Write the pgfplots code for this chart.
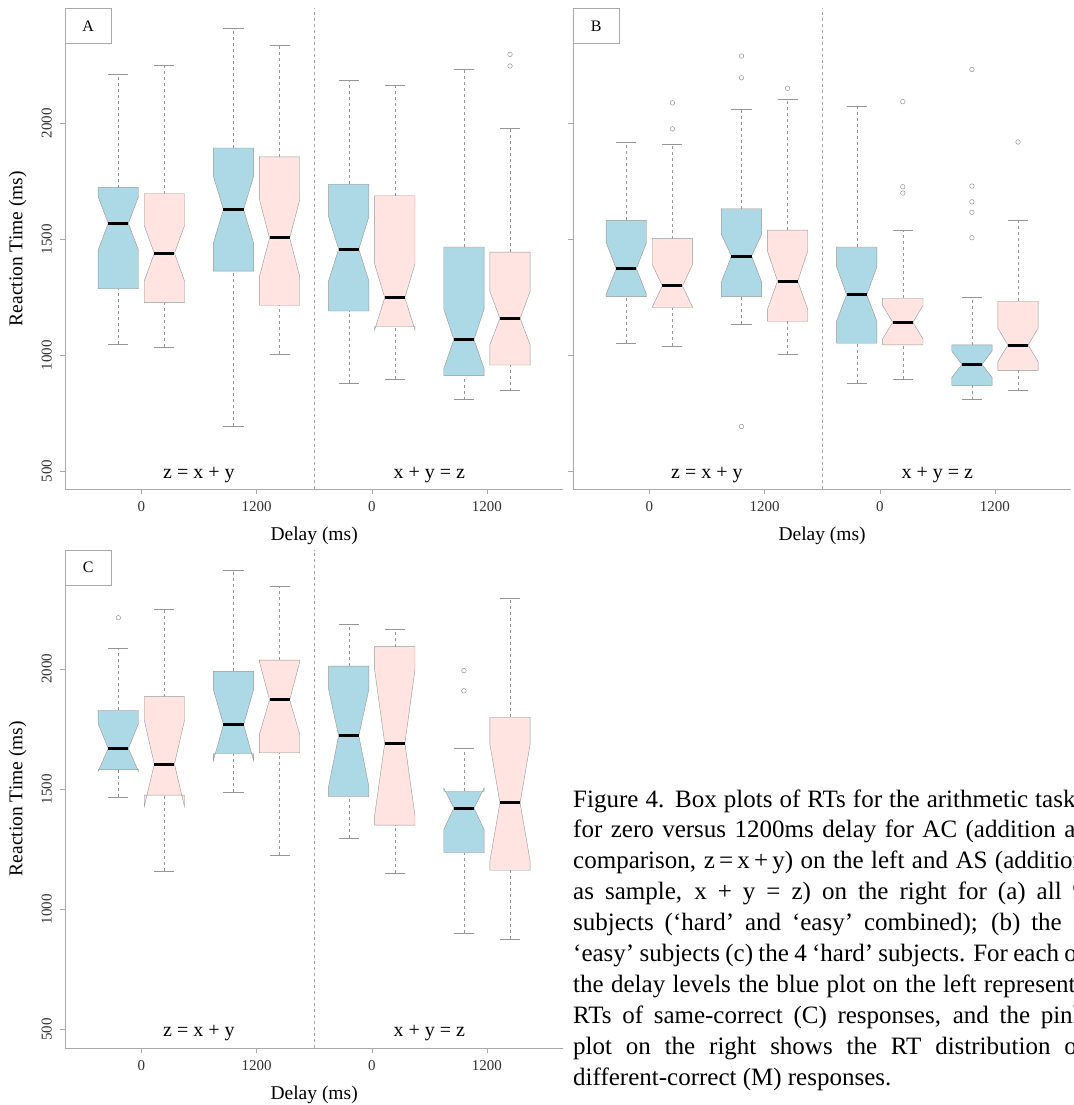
\documentclass[border=0pt]{standalone}
\usepackage{fontspec}
\setmainfont{Liberation Serif}
\usepackage{pgfplots}
\pgfplotsset{compat=1.18}
\definecolor{bxblue}{RGB}{173,216,230}
\definecolor{bxpink}{RGB}{255,228,225}
\definecolor{axgray}{RGB}{170,170,170}
\definecolor{bxedge}{RGB}{150,150,150}

% #1 x, #2 fill, #3 lower whisker, #4 Q1, #5 notch low, #6 median, #7 notch high, #8 Q3, #9 upper whisker
\newcommand{\nbox}[9]{%
  \pgfmathsetmacro\xa{#1-0.175}%
  \pgfmathsetmacro\xb{#1+0.175}%
  \pgfmathsetmacro\xc{#1-0.0875}%
  \pgfmathsetmacro\xd{#1+0.0875}%
  \edef\tmp{%
    \noexpand\addplot[draw=bxedge, dash pattern=on 3pt off 3pt] coordinates {(#1,#3) (#1,#4)};
    \noexpand\addplot[draw=bxedge, dash pattern=on 3pt off 3pt] coordinates {(#1,#8) (#1,#9)};
    \noexpand\addplot[draw=bxedge] coordinates {(\xc,#3) (\xd,#3)};
    \noexpand\addplot[draw=bxedge] coordinates {(\xc,#9) (\xd,#9)};
    \noexpand\addplot[fill=#2, draw=bxedge] coordinates {(\xa,#4) (\xb,#4) (\xb,#5) (\xd,#6) (\xb,#7) (\xb,#8) (\xa,#8) (\xa,#7) (\xc,#6) (\xa,#5) (\xa,#4)};
    \noexpand\addplot[black, line width=3pt] coordinates {(\xc,#6) (\xd,#6)};
  }\tmp}

\pgfplotsset{rtbox/.style={
  scale only axis, width=497.7pt,
  xmin=0.34, xmax=4.66, ymin=423.2, ymax=2496.8,
  axis x line=bottom, axis y line=left,
  axis line style={draw=axgray, -},
  tick style={draw=axgray, thin}, tick align=outside, major tick length=5pt,
  xtick={1,2,3,4}, xticklabels={0,1200,0,1200},
  ytick={500,1000,1500,2000},
  ticklabel style={font=\fontsize{15}{15}\selectfont, text=black!80},
  xticklabel style={yshift=-4pt},
  yticklabel style={rotate=90, anchor=south, yshift=5pt},
  xlabel={Delay (ms)},
  xlabel style={at={(axis description cs:0.5,0)}, anchor=center, yshift=-47pt, font=\fontsize{19.5}{20}\selectfont},
  ylabel style={at={(axis description cs:-0.0958,0.5)}, anchor=center, font=\fontsize{19.5}{20}\selectfont},
  clip=false,
}}
\newcommand{\grouplabels}{%
  \addplot[draw=axgray, dash pattern=on 3pt off 3pt] coordinates {(2.5,423.2) (2.5,2496.8)};
  \node[font=\fontsize{20}{20}\selectfont] at (axis cs:1.5,485) {z = x + y};
  \node[font=\fontsize{20}{20}\selectfont] at (axis cs:3.5,485) {x + y = z};
}
\newcommand{\panellabel}[1]{%
  \node[draw=axgray, anchor=north west, minimum width=45.4pt, minimum height=35pt, inner sep=0pt, font=\fontsize{16}{16}\selectfont] at (rel axis cs:0,1) {#1};
}

\begin{document}
\begin{tikzpicture}
\useasboundingbox (0pt,0pt) rectangle (1073pt,-1105pt);
\clip (0pt,0pt) rectangle (1073pt,-1105pt);

% ---------------- Panel A ----------------
\begin{axis}[rtbox, at={(65.3pt,-489pt)}, anchor=south west, height=480.7pt,
  yticklabels={500,1000,1500,2000}, ylabel={Reaction Time (ms)}]
\grouplabels
\panellabel{A}
\nbox{0.8}{bxblue}{1050}{1287}{1454}{1569}{1684}{1723}{2212}
\nbox{1.2}{bxpink}{1037}{1227}{1320}{1440}{1560}{1697}{2252}
\nbox{1.8}{bxblue}{693}{1363}{1483}{1629}{1773}{1894}{2412}
\nbox{2.2}{bxpink}{1006}{1216}{1339}{1506}{1672}{1856}{2339}
\nbox{2.8}{bxblue}{879}{1191}{1321}{1458}{1598}{1738}{2185}
\nbox{3.2}{bxpink}{897}{1124}{1109}{1248}{1394}{1688}{2165}
\nbox{3.8}{bxblue}{809}{912}{942}{1068}{1200}{1467}{2235}
\nbox{4.2}{bxpink}{848}{958}{1045}{1159}{1276}{1445}{1980}
\addplot[only marks, mark=o, mark size=2.3pt, draw=gray] coordinates {(4.2,2298) (4.2,2248)};
\end{axis}

% ---------------- Panel B ----------------
\begin{axis}[rtbox, at={(573.3pt,-489pt)}, anchor=south west, height=480.7pt,
  yticklabels={}]
\grouplabels
\panellabel{B}
\nbox{0.8}{bxblue}{1052}{1253}{1263}{1374}{1486}{1582}{1919}
\nbox{1.2}{bxpink}{1039}{1206}{1208}{1299}{1392}{1503}{1912}
\nbox{1.8}{bxblue}{1134}{1253}{1316}{1428}{1522}{1632}{2060}
\nbox{2.2}{bxpink}{1004}{1147}{1198}{1320}{1450}{1540}{2103}
\nbox{2.8}{bxblue}{879}{1052}{1147}{1261}{1382}{1467}{2076}
\nbox{3.2}{bxpink}{897}{1045}{1071}{1142}{1215}{1246}{1539}
\nbox{3.8}{bxblue}{809}{870}{904}{961}{1018}{1045}{1249}
\nbox{4.2}{bxpink}{848}{935}{973}{1044}{1117}{1233}{1582}
\addplot[only marks, mark=o, mark size=2.3pt, draw=gray] coordinates {
 (1.2,2089) (1.2,1977) (1.8,2291) (1.8,2197) (1.8,693) (2.2,2152)
 (3.2,2094) (3.2,1727) (3.2,1700) (3.8,2233) (3.8,1730) (3.8,1662)
 (3.8,1617) (3.8,1507) (4.2,1920)};
\end{axis}

% ---------------- Panel C ----------------
\begin{axis}[rtbox, at={(65.3pt,-1047.7pt)}, anchor=south west, height=498.1pt,
  yticklabels={500,1000,1500,2000}, ylabel={Reaction Time (ms)}]
\grouplabels
\panellabel{C}
\nbox{0.8}{bxblue}{1468}{1581}{1574}{1669}{1772}{1828}{2087}
\nbox{1.2}{bxpink}{1160}{1475}{1426}{1604}{1787}{1885}{2250}
\nbox{1.8}{bxblue}{1488}{1647}{1618}{1768}{1915}{1990}{2412}
\nbox{2.2}{bxpink}{1225}{1651}{1728}{1871}{2030}{2037}{2343}
\nbox{2.8}{bxblue}{1297}{1468}{1510}{1722}{1915}{2012}{2187}
\nbox{3.2}{bxpink}{1150}{1350}{1390}{1690}{1996}{2093}{2166}
\nbox{3.8}{bxblue}{900}{1235}{1331}{1421}{1504}{1490}{1669}
\nbox{4.2}{bxpink}{875}{1162}{1199}{1443}{1687}{1799}{2294}
\addplot[only marks, mark=o, mark size=2.3pt, draw=gray] coordinates {(0.8,2213) (3.8,1993) (3.8,1909)};
\end{axis}

% ---------------- Caption ----------------
\node[anchor=base west, inner sep=0pt] at (573pt,-807pt) {\parbox[t]{512pt}{\fontsize{25}{30.9}\selectfont
\makebox[512pt][s]{Figure 4. Box plots of RTs for the arithmetic tasks}\\
\makebox[512pt][s]{for zero versus 1200ms delay for AC (addition as}\\
\makebox[512pt][s]{comparison, z\,=\,x\,+\,y) on the left and AS (addition}\\
\makebox[512pt][s]{as sample, x + y = z) on the right for (a) all 9}\\
\makebox[512pt][s]{subjects (‘hard’ and ‘easy’ combined); (b) the 5}\\
\makebox[512pt][s]{‘easy’ subjects (c) the 4 ‘hard’ subjects. For each of}\\
\makebox[512pt][s]{the delay levels the blue plot on the left represents}\\
\makebox[512pt][s]{RTs of same-correct (C) responses, and the pink}\\
\makebox[512pt][s]{plot on the right shows the RT distribution of}\\
different-correct (M) responses.}};
\end{tikzpicture}
\end{document}
